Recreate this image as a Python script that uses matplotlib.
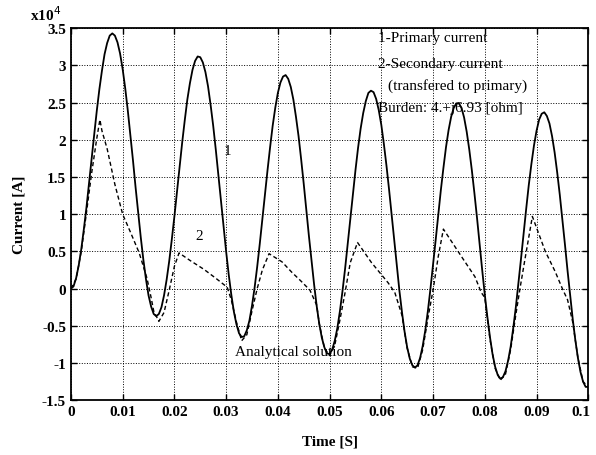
import numpy as np
import matplotlib.pyplot as plt
from matplotlib.transforms import ScaledTranslation

# primary current, sampled every 0.5 ms (values in units of 1e4 A)
t_primary = np.linspace(0, 0.1, 201)
i_primary = [0.00, 0.03, 0.14, 0.31, 0.53, 0.80, 1.09, 1.42, 1.75, 2.07,
             2.39, 2.68, 2.93, 3.15, 3.30, 3.40, 3.43, 3.40, 3.31, 3.16,
             2.95, 2.69, 2.39, 2.06, 1.72, 1.36, 1.02, 0.69, 0.39, 0.13,
             -0.09, -0.24, -0.34, -0.37, -0.34, -0.25, -0.09, 0.12, 0.37, 0.66,
             0.97, 1.30, 1.64, 1.96, 2.26, 2.54, 2.76, 2.94, 3.06, 3.12,
             3.11, 3.04, 2.91, 2.72, 2.47, 2.19, 1.87, 1.53, 1.18, 0.84,
             0.50, 0.19, -0.08, -0.31, -0.48, -0.60, -0.65, -0.64, -0.56, -0.43,
             -0.23, 0.01, 0.29, 0.60, 0.93, 1.26, 1.59, 1.90, 2.19, 2.43,
             2.63, 2.77, 2.85, 2.87, 2.82, 2.71, 2.54, 2.31, 2.05, 1.74,
             1.41, 1.06, 0.71, 0.38, 0.06, -0.23, -0.47, -0.66, -0.79, -0.87,
             -0.88, -0.82, -0.70, -0.53, -0.30, -0.03, 0.27, 0.60, 0.94, 1.27,
             1.59, 1.89, 2.15, 2.36, 2.52, 2.63, 2.66, 2.64, 2.55, 2.40,
             2.20, 1.94, 1.65, 1.33, 0.99, 0.64, 0.30, -0.03, -0.32, -0.58,
             -0.79, -0.94, -1.03, -1.06, -1.03, -0.93, -0.77, -0.56, -0.30, 0.00,
             0.32, 0.65, 0.99, 1.32, 1.62, 1.90, 2.13, 2.31, 2.43, 2.49,
             2.49, 2.43, 2.30, 2.11, 1.87, 1.59, 1.28, 0.95, 0.60, 0.25,
             -0.08, -0.38, -0.65, -0.88, -1.05, -1.16, -1.21, -1.19, -1.11, -0.97,
             -0.78, -0.53, -0.25, 0.07, 0.40, 0.74, 1.07, 1.39, 1.67, 1.92,
             2.12, 2.27, 2.35, 2.37, 2.32, 2.22, 2.05, 1.83, 1.56, 1.26,
             0.93, 0.59, 0.24, -0.09, -0.41, -0.69, -0.93, -1.12, -1.25, -1.32,
             -1.32]

# secondary current transferred to primary
t_secondary = [0, 0.001, 0.002, 0.003, 0.004, 0.005, 0.0056, 0.006, 0.007, 0.0085,
               0.010, 0.0115, 0.0132, 0.0147, 0.0155, 0.016, 0.017, 0.018, 0.019, 0.020,
               0.0209, 0.023, 0.0257, 0.028, 0.0302, 0.031, 0.032, 0.033, 0.034, 0.035,
               0.036, 0.037, 0.0383, 0.0408, 0.0427, 0.0445, 0.0462, 0.0475, 0.048, 0.049,
               0.050, 0.051, 0.052, 0.053, 0.054, 0.0554, 0.0581, 0.0613, 0.0626, 0.064,
               0.065, 0.066, 0.067, 0.068, 0.069, 0.070, 0.071, 0.072, 0.0756, 0.0781,
               0.0793, 0.080, 0.081, 0.082, 0.083, 0.084, 0.085, 0.086, 0.0868, 0.0878,
               0.0892, 0.0917, 0.0936, 0.095, 0.096, 0.097, 0.098, 0.099, 0.1]
i_secondary = [0.00, 0.13, 0.50, 1.02, 1.55, 2.02, 2.27, 2.12, 1.88, 1.40,
               1.00, 0.76, 0.48, 0.14, -0.12, -0.30, -0.44, -0.32, -0.02, 0.30,
               0.48, 0.38, 0.26, 0.14, 0.02, -0.15, -0.45, -0.70, -0.62, -0.30,
               0.00, 0.25, 0.47, 0.36, 0.22, 0.10, -0.02, -0.22, -0.47, -0.80,
               -0.90, -0.76, -0.42, -0.05, 0.35, 0.62, 0.35, 0.08, -0.05, -0.36,
               -0.80, -1.05, -1.07, -0.82, -0.40, -0.02, 0.43, 0.80, 0.42, 0.16,
               -0.05, -0.12, -0.68, -1.07, -1.23, -1.15, -0.82, -0.35, 0.00, 0.41,
               0.97, 0.50, 0.23, 0.00, -0.15, -0.45, -0.93, -1.25, -1.32]

x_ticks = [0, 0.01, 0.02, 0.03, 0.04, 0.05, 0.06, 0.07, 0.08, 0.09, 0.1]
x_labels = ['0', '0.01', '0.02', '0.03', '0.04', '0.05', '0.06', '0.07', '0.08', '0.09', '0.1']
y_ticks = [-1.5, -1, -0.5, 0, 0.5, 1, 1.5, 2, 2.5, 3, 3.5]
y_labels = ['-1.5', '-1', '-0.5', '0', '0.5', '1', '1.5', '2', '2.5', '3', '3.5']

plt.rcParams['font.family'] = ['Liberation Serif', 'DejaVu Serif']

fig = plt.figure(figsize=(5.96, 4.56), dpi=100)
ax = fig.add_axes([0.119, 0.12, 0.868, 0.816])

ax.plot(t_primary, i_primary, color='black', linewidth=1.3)
ax.plot(t_secondary, i_secondary, color='black', linewidth=1.0, linestyle=(0, (3, 2)))

ax.set_xlim(0, 0.1)
ax.set_ylim(-1.5, 3.5)
ax.set_xticks(x_ticks)
ax.set_xticklabels(x_labels, fontsize=11, fontweight='bold')
ax.set_yticks(y_ticks)
ax.set_yticklabels(y_labels, fontsize=11, fontweight='bold')
ax.tick_params(direction='in', top=True, right=True, length=4, width=1)
ax.grid(True, linestyle=':', color='black', linewidth=0.7)
for sp in ax.spines.values():
    sp.set_linewidth(1.3)

# keep the last x tick label inside the figure
last = ax.get_xticklabels()[-1]
last.set_transform(last.get_transform() + ScaledTranslation(-5 / 72, 0, fig.dpi_scale_trans))

ax.set_xlabel('Time [S]', fontsize=11, fontweight='bold', labelpad=12)
ax.set_ylabel('Current [A]', fontsize=11, fontweight='bold', labelpad=12)

fig.text(0.050, 0.968, 'x10$^4$', fontsize=11, fontweight='bold', va='center')

ax.text(0.0594, 3.38, '1-Primary current', fontsize=11, va='center')
ax.text(0.0594, 3.03, '2-Secondary current', fontsize=11, va='center')
ax.text(0.0612, 2.74, '(transfered to primary)', fontsize=11, va='center')
ax.text(0.0594, 2.43, 'Burden: 4.+j6.93 [ohm]', fontsize=11, va='center')
ax.text(0.0295, 1.85, '1', fontsize=11, va='center')
ax.text(0.0240, 0.72, '2', fontsize=11, va='center')
ax.text(0.0318, -0.85, 'Analytical solution', fontsize=11, va='center')

fig.savefig('out.png', dpi=100)
